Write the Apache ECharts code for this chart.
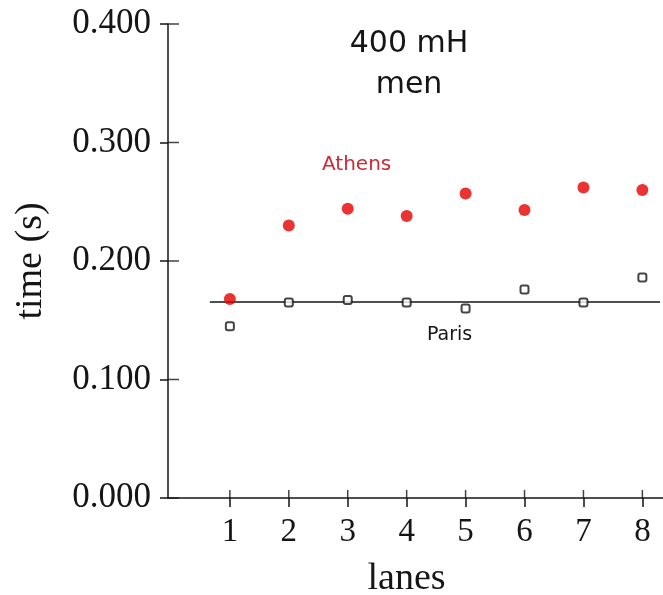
<!DOCTYPE html>
<html>
<head>
<meta charset="utf-8">
<script src="https://cdn.jsdelivr.net/npm/echarts@6/dist/echarts.min.js"></script>
<style>
  html, body { margin: 0; padding: 0; background: #ffffff; }
  #chart { width: 663px; height: 595px; }
</style>
</head>
<body>
<div id="chart"></div>
<script>
// ---- data ----
var lanes = [1, 2, 3, 4, 5, 6, 7, 8];
var athensTimes = [0.168, 0.230, 0.244, 0.238, 0.257, 0.243, 0.262, 0.260];
var parisTimes = [0.145, 0.165, 0.167, 0.165, 0.160, 0.176, 0.165, 0.186];
var parisLineX = [0.66, 8.3];
var parisLineY = [0.1654, 0.1654];
var yTicks = [0, 0.1, 0.2, 0.3, 0.4];
var xMin = -0.05, xMax = 8.35;

var chart = echarts.init(document.getElementById('chart'), null, { renderer: 'canvas' });

function pairs(xs, ys) { return xs.map(function (x, i) { return [x, ys[i]]; }); }

var axisFont = 'Liberation Serif';
var ink = '#151515';

chart.setOption({
  backgroundColor: '#ffffff',
  animation: false,
  tooltip: { show: false },
  grid: { left: 168, right: 0, top: 24, bottom: 97, containLabel: false, outerBoundsMode: 'none' },
  title: {
    text: '400 mH\nmen',
    left: 404, top: 19, textAlign: 'center',
    textStyle: { fontFamily: 'DejaVu Sans', fontSize: 30, fontWeight: 'normal', color: ink, lineHeight: 41 }
  },
  graphic: [
    { type: 'text', left: 322, top: 155, style: { text: 'Athens', fill: '#cc2a36', font: '20px "DejaVu Sans"' } },
    { type: 'text', left: 427, top: 326, style: { text: 'Paris', fill: ink, font: '19px "DejaVu Sans"' } }
  ],
  xAxis: {
    type: 'value', min: xMin, max: xMax, position: 'bottom',
    name: 'lanes', nameLocation: 'middle', nameGap: 62,
    nameTextStyle: { fontFamily: axisFont, fontSize: 38, color: ink, padding: [0, 18, 0, 0] },
    axisLine: { show: true, onZero: false, lineStyle: { color: ink, width: 1.5 } },
    axisTick: { show: true, customValues: lanes, length: 9, lineStyle: { color: ink, width: 1.5 } },
    axisLabel: { customValues: lanes, margin: 18, fontFamily: axisFont, fontSize: 33, color: ink },
    splitLine: { show: false }
  },
  yAxis: {
    type: 'value', min: 0, max: 0.4, interval: 0.1, position: 'left',
    name: 'time (s)', nameLocation: 'middle', nameGap: 118, nameRotate: 90,
    nameTextStyle: { fontFamily: axisFont, fontSize: 38, color: ink },
    axisLine: { show: true, onZero: false, lineStyle: { color: ink, width: 1.5 } },
    axisTick: { show: true, length: 8, lineStyle: { color: ink, width: 1.5 } },
    axisLabel: {
      margin: 17, fontFamily: axisFont, fontSize: 35, color: ink,
      formatter: function (v) { return v.toFixed(3); }
    },
    splitLine: { show: false }
  },
  series: [
    {
      // inner half of the y-axis cross ticks
      name: 'yTickInner', type: 'scatter', silent: true, clip: false,
      data: yTicks.map(function (v) { return [xMin, v]; }),
      symbol: 'rect', symbolSize: [11, 1.5], symbolOffset: ['50%', 0],
      itemStyle: { color: ink }, z: 5
    },
    {
      // inner half of the x-axis cross ticks
      name: 'xTickInner', type: 'scatter', silent: true, clip: false,
      data: lanes.map(function (v) { return [v, 0]; }),
      symbol: 'rect', symbolSize: [1.5, 8], symbolOffset: [0, '-50%'],
      itemStyle: { color: ink }, z: 5
    },
    {
      name: 'Paris fit', type: 'line',
      data: pairs(parisLineX, parisLineY), symbol: 'none',
      lineStyle: { color: ink, width: 1.5 }, z: 1
    },
    {
      name: 'Athens', type: 'scatter',
      data: pairs(lanes, athensTimes), symbol: 'circle', symbolSize: 12,
      itemStyle: { color: '#e60000' }, z: 3
    },
    {
      name: 'Paris', type: 'scatter',
      data: pairs(lanes, parisTimes), symbol: 'roundRect', symbolSize: 8,
      itemStyle: { color: '#ffffff', borderColor: ink, borderWidth: 2 }, z: 4
    }
  ]
});
</script>
</body>
</html>
